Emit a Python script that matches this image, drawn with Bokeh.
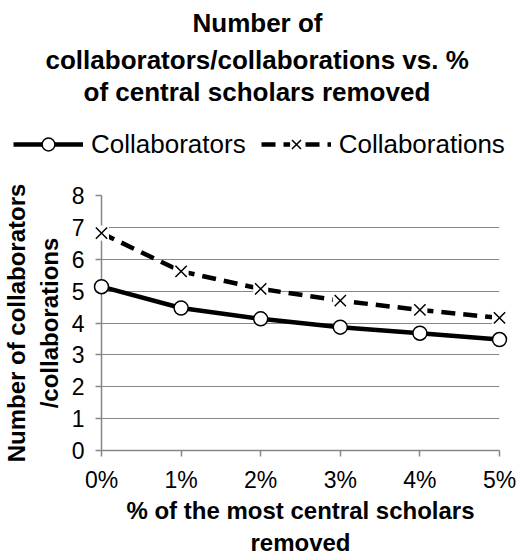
import math
from bokeh.plotting import figure
from bokeh.layouts import column
from bokeh.models import (Range1d, FixedTicker, Title, Legend, LegendItem,
                          ColumnDataSource)
from bokeh.embed import file_html
from bokeh.resources import INLINE

pct_removed = [0, 1, 2, 3, 4, 5]
pct_labels = ["0%", "1%", "2%", "3%", "4%", "5%"]
collaborators = [5.14, 4.47, 4.13, 3.87, 3.68, 3.48]
collaborations = [6.82, 5.62, 5.07, 4.70, 4.41, 4.16]
series_names = ["Collaborators", "Collaborations"]
title_lines = ["Number of",
               "collaborators/collaborations vs. %",
               "of central scholars removed"]

FONT = "Liberation Sans"
GRAY = "#868686"

# ---------------- main chart ----------------
src = ColumnDataSource(dict(x=pct_removed, a=collaborators, b=collaborations))

p = figure(output_backend="svg", toolbar_location=None,
           frame_width=398, frame_height=255,
           x_range=Range1d(0, 5), y_range=Range1d(0, 8),
           min_border_left=93, min_border_right=17, min_border_bottom=0,
           min_border_top=23,
           outline_line_color=None, background_fill_color="white",
           border_fill_color="white")

p.xaxis.ticker = FixedTicker(ticks=pct_removed)
p.xaxis.major_label_overrides = {k: v for k, v in zip(pct_removed, pct_labels)}
p.yaxis.ticker = FixedTicker(ticks=list(range(0, 9)))
for ax in (p.xaxis, p.yaxis):
    ax.axis_line_color = GRAY
    ax.axis_line_width = 1.5
    ax.major_tick_line_color = GRAY
    ax.major_tick_line_width = 1.5
    ax.major_tick_out = 6
    ax.major_tick_in = 0
    ax.minor_tick_line_color = None
    ax.major_label_text_font = FONT
    ax.major_label_text_font_size = "23px"
    ax.major_label_text_color = "black"
    ax.axis_label_text_font = FONT
    ax.axis_label_text_font_style = "bold"
    ax.axis_label_text_color = "black"
    ax.axis_label_text_font_size = "24px"
p.xaxis.axis_label = "% of the most central scholars\nremoved"
p.xaxis.axis_label_standoff = 1
p.xaxis.major_label_standoff = 10
p.yaxis.axis_label = "Number of collaborators\n/collaborations"
p.yaxis.axis_label_standoff = 6
p.yaxis.major_label_standoff = 11

p.xgrid.grid_line_color = None
p.ygrid.grid_line_color = GRAY
p.ygrid.grid_line_width = 1.2

LINE_A = dict(line_color="black", line_width=4.5)
LINE_B = dict(line_color="black", line_width=4.5, line_dash="14 8")
MARK_A = dict(marker="circle", size=14, fill_color="white", line_color="black", line_width=1.5)
MARK_B_BG = dict(marker="square", size=15, fill_color="white", line_color=None)
MARK_B = dict(marker="x", size=16, line_color="black", line_width=1.5)

p.line("x", "a", source=src, level="overlay", **LINE_A)
p.scatter("x", "a", source=src, level="overlay", **MARK_A)
p.line("x", "b", source=src, level="overlay", **LINE_B)
p.scatter("x", "b", source=src, level="overlay", **MARK_B_BG)
p.scatter("x", "b", source=src, level="overlay", **MARK_B)

# ---------------- header: title + legend ----------------
head = figure(output_backend="svg", toolbar_location=None,
              frame_width=508, frame_height=67,
              x_range=Range1d(0, 1), y_range=Range1d(0, 1),
              x_axis_type=None, y_axis_type=None,
              min_border_left=0, min_border_right=0, min_border_top=0,
              min_border_bottom=0,
              outline_line_color=None, background_fill_color="white",
              border_fill_color="white")
head.xgrid.grid_line_color = None
head.ygrid.grid_line_color = None

# legend-key renderers (no visible data of their own)
nan_src = ColumnDataSource(dict(x=[math.nan], y=[math.nan]))
hl1 = head.line("x", "y", source=nan_src, **LINE_A)
hm1 = head.scatter("x", "y", source=nan_src, **MARK_A)
hl2 = head.line("x", "y", source=nan_src, **LINE_B)
hb2 = head.scatter("x", "y", source=nan_src, **MARK_B_BG)
hm2 = head.scatter("x", "y", source=nan_src, **MARK_B)

legend = Legend(items=[LegendItem(label=series_names[0], renderers=[hl1, hm1]),
                       LegendItem(label=series_names[1], renderers=[hl2, hb2, hm2])],
                orientation="horizontal", location=(13, 12),
                label_text_font=FONT, label_text_font_size="26px",
                label_text_color="black",
                glyph_width=70, glyph_height=32, label_standoff=8, spacing=15,
                padding=0, margin=0,
                background_fill_alpha=0, border_line_color=None)
head.add_layout(legend, "center")

# title lines as title panels, added from the frame outward
title_offsets = [91, -56, -18]
title_standoffs = [10, 1, -2]
for line, off, so in reversed(list(zip(title_lines, title_offsets, title_standoffs))):
    head.add_layout(Title(text=line, align="left", offset=off,
                          text_font=FONT, text_font_size="26px",
                          text_font_style="bold", text_color="black",
                          standoff=so), "above")

layout = column(head, p, spacing=0)
html = file_html(layout, INLINE)
open("out.html", "w").write(html)
